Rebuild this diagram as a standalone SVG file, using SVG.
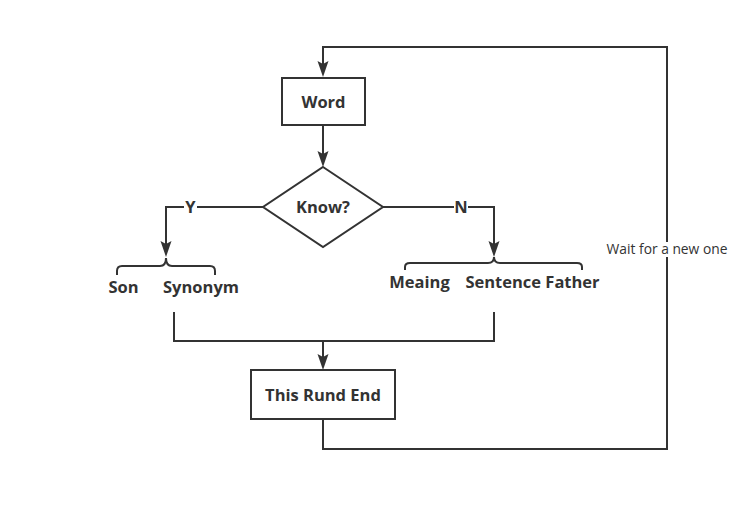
<svg xmlns="http://www.w3.org/2000/svg" width="729" height="512" viewBox="0 0 729 512">
<defs>
<style>
.ln{fill:none;stroke:#333;stroke-width:2}
.nd{fill:#fff;stroke:#333;stroke-width:2}
.ah{fill:#333;stroke:none}
.b{font-family:"Open Sans","Noto Sans","DejaVu Sans",sans-serif;font-weight:bold;font-size:16.5px;fill:#333;text-anchor:middle}
.r{font-family:"Open Sans","Noto Sans","DejaVu Sans",sans-serif;font-size:13.8px;fill:#333;text-anchor:middle}
</style>
</defs>
<rect width="729" height="512" fill="#fff"/>
<g id="connectors">
<path class="ln" d="M323 419 V449 H667 V47 H323 V64"/>
<path class="ah" d="M317.5 61 L323 77 L328.5 61 L323 64 Z"/>
<path class="ln" d="M323 125 V154"/>
<path class="ah" d="M317.5 151 L323 167 L328.5 151 L323 154 Z"/>
<path class="ln" d="M263 207 H166 V244"/>
<path class="ah" d="M160.5 241 L166 257 L171.5 241 L166 244 Z"/>
<path class="ln" d="M383 207 H494 V244"/>
<path class="ah" d="M488.5 241 L494 257 L499.5 241 L494 244 Z"/>
<path class="ln" d="M174 312 V341 H494 V312"/>
<path class="ln" d="M323 341 V357"/>
<path class="ah" d="M317.5 354 L323 370 L328.5 354 L323 357 Z"/>
<rect x="605" y="242" width="124" height="15" fill="#fff"/>
<text class="r" x="667" y="254">Wait for a new one</text>
<rect x="184" y="199" width="13" height="16" fill="#fff"/>
<text class="b" x="190.5" y="213">Y</text>
<rect x="454" y="199" width="14" height="16" fill="#fff"/>
<text class="b" x="461" y="213">N</text>
</g>
<g id="word">
<rect class="nd" x="282" y="78" width="83" height="47"/>
<text class="b" x="323.5" y="107.5">Word</text>
</g>
<g id="know">
<path class="nd" d="M323 167 L383 207 L323 247 L263 207 Z"/>
<text class="b" x="323" y="213">Know?</text>
</g>
<g id="yes-group">
<path class="ln" d="M117 275 V271 Q117 266 122 266 H160 Q166 266 166 258 Q166 266 172 266 H210 Q215 266 215 271 V275"/>
<text class="b" x="123.5" y="293">Son</text>
<text class="b" x="201" y="293">Synonym</text>
</g>
<g id="no-group">
<path class="ln" d="M405 270 V267 Q405 263 410 263 H488 Q494 263 494 257 Q494 263 500 263 H577 Q582 263 582 267 V270"/>
<text class="b" x="419.5" y="288">Meaing</text>
<text class="b" x="532.5" y="288">Sentence Father</text>
</g>
<g id="end">
<rect class="nd" x="251" y="370" width="144" height="49"/>
<text class="b" x="323" y="400.5">This Rund End</text>
</g>
</svg>
